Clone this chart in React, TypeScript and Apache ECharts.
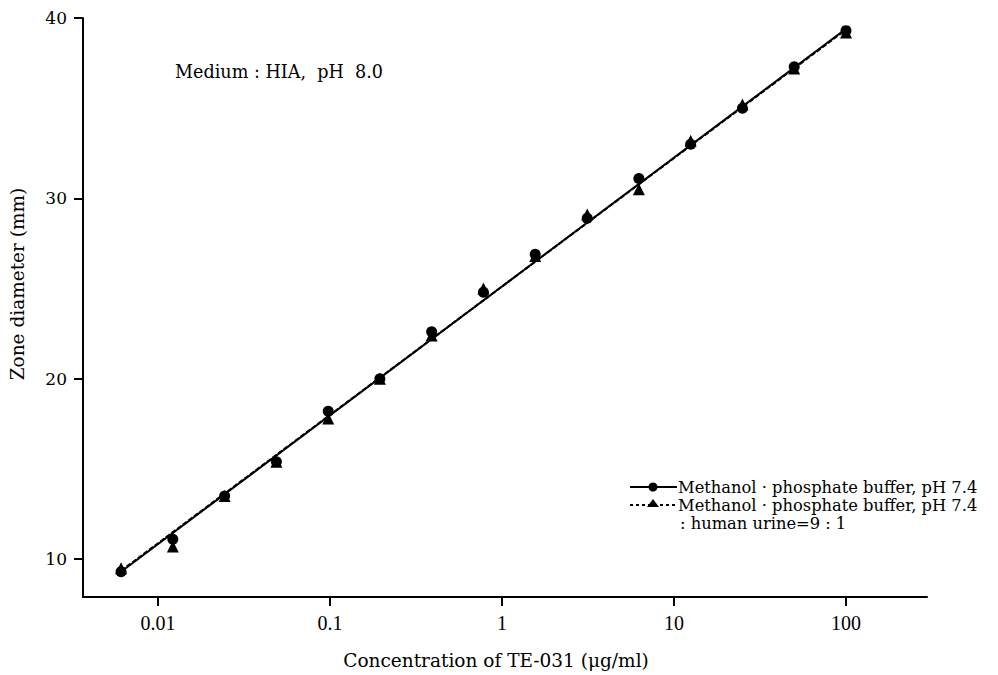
import React, { useEffect, useRef } from "react";
import * as echarts from "echarts";

// Concentration of TE-031 (µg/ml), two-fold dilutions
const concentrations = [0.0061, 0.0122, 0.0244, 0.0488, 0.0977, 0.195, 0.39, 0.78, 1.56, 3.13, 6.25, 12.5, 25, 50, 100];
// Zone diameter (mm)
const methanolBuffer = [9.3, 11.1, 13.5, 15.4, 18.2, 20.0, 22.6, 24.8, 26.9, 28.9, 31.1, 33.0, 35.0, 37.3, 39.3];
const withUrine = [9.5, 10.7, 13.5, 15.4, 17.8, 20.0, 22.4, 25.0, 26.8, 29.1, 30.5, 33.2, 35.2, 37.2, 39.2];
// regression line end points
const fitConc = [0.0061, 100];
const fitSolid = [9.3, 39.4];
const fitDashed = [9.35, 39.35];

const xTickValues = [0.01, 0.1, 1, 10, 100];
const xTickLabels = ["0.01", "0.1", "1", "10", "100"];
const yTickValues = [10, 20, 30, 40];

const legendLabels = [
  "Methanol · phosphate buffer, pH 7.4",
  "Methanol · phosphate buffer, pH 7.4",
  ": human urine=9 : 1",
];
const annotation = "Medium : HIA,  pH  8.0";
const xTitle = "Concentration of TE-031 (μg/ml)";
const yTitle = "Zone diameter (mm)";

const FONT = "DejaVu Serif";
const XFONT = "Liberation Serif";

export default function App() {
  const ref = useRef<HTMLDivElement>(null);
  useEffect(() => {
    if (!ref.current) return;
    const chart = echarts.init(ref.current, null, { renderer: "svg" });
    const lg = (c: number) => Math.log10(c);
    const xTickLog = xTickValues.map(lg);
    const option: any = {
      animation: false,
      backgroundColor: "#fff",
      textStyle: { fontFamily: FONT, color: "#000" },
      grid: { left: 83, right: 71, top: 18, bottom: 78 },
      xAxis: {
        type: "value",
        min: -2.436,
        max: 2.471,
        splitLine: { show: false },
        axisLine: { show: true, onZero: false, lineStyle: { color: "#000", width: 2 } },
        axisTick: { show: true, customValues: xTickLog, length: 9, lineStyle: { color: "#000", width: 2 } },
        axisLabel: {
          customValues: xTickLog,
          margin: 16,
          fontSize: 20,
          fontFamily: XFONT,
          color: "#000",
          formatter: (v: number) => {
            const i = xTickLog.findIndex((t) => Math.abs(t - v) < 1e-6);
            return i >= 0 ? xTickLabels[i] : "";
          },
        },
      },
      yAxis: {
        type: "value",
        min: 7.9,
        max: 40,
        splitLine: { show: false },
        axisLine: { show: true, onZero: false, lineStyle: { color: "#000", width: 2 } },
        axisTick: { show: true, customValues: yTickValues, length: 9, lineStyle: { color: "#000", width: 2 } },
        axisLabel: {
          customValues: yTickValues,
          margin: 16,
          fontSize: 17,
          fontFamily: FONT,
          color: "#000",
        },
      },
      series: [
        {
          type: "line",
          data: fitConc.map((c, i) => [lg(c), fitSolid[i]]),
          showSymbol: false,
          lineStyle: { color: "#000", width: 2 },
          z: 3,
        },
        {
          type: "line",
          data: fitConc.map((c, i) => [lg(c), fitDashed[i]]),
          showSymbol: false,
          lineStyle: { color: "#000", width: 2, type: [5, 2] },
          z: 3,
        },
        {
          type: "scatter",
          data: concentrations.map((c, i) => [lg(c), methanolBuffer[i]]),
          symbol: "circle",
          symbolSize: 11,
          itemStyle: { color: "#000", opacity: 1 },
          z: 4,
        },
        {
          type: "scatter",
          data: concentrations.map((c, i) => [lg(c), withUrine[i]]),
          symbol: "triangle",
          symbolSize: 12,
          itemStyle: { color: "#000", opacity: 1 },
          z: 4,
        },
      ],
      graphic: [
        {
          type: "text",
          x: 496,
          y: 660,
          style: {
            text: xTitle,
            font: `18.5px '${FONT}'`,
            fill: "#000",
            align: "center",
            verticalAlign: "middle",
          },
        },
        {
          type: "text",
          x: 17,
          y: 284,
          rotation: Math.PI / 2,
          style: {
            text: yTitle,
            font: `18.5px '${FONT}'`,
            fill: "#000",
            align: "center",
            verticalAlign: "middle",
          },
        },
        {
          type: "text",
          x: 175,
          y: 72,
          style: { text: annotation, font: `17.6px '${FONT}'`, fill: "#000", verticalAlign: "middle" },
        },
        { type: "line", shape: { x1: 630, y1: 487, x2: 677, y2: 487 }, style: { stroke: "#000", lineWidth: 2 } },
        { type: "circle", shape: { cx: 653, cy: 487, r: 4.5 }, style: { fill: "#000" } },
        {
          type: "text",
          x: 678,
          y: 487,
          style: { text: legendLabels[0], font: `16.3px '${FONT}'`, fill: "#000", verticalAlign: "middle" },
        },
        {
          type: "line",
          shape: { x1: 630, y1: 505, x2: 677, y2: 505 },
          style: { stroke: "#000", lineWidth: 2, lineDash: [3, 3] },
        },
        {
          type: "polygon",
          shape: { points: [[653, 499], [659, 507], [647, 507]] },
          style: { fill: "#000" },
        },
        {
          type: "text",
          x: 678,
          y: 505,
          style: { text: legendLabels[1], font: `16.3px '${FONT}'`, fill: "#000", verticalAlign: "middle" },
        },
        {
          type: "text",
          x: 680,
          y: 523,
          style: { text: legendLabels[2], font: `16.3px '${FONT}'`, fill: "#000", verticalAlign: "middle" },
        },
      ],
    };
    chart.setOption(option);
    return () => chart.dispose();
  }, []);
  return (
    <div
      ref={ref}
      style={{ position: "fixed", left: 0, top: 0, width: 998, height: 675, background: "#fff" }}
    />
  );
}
